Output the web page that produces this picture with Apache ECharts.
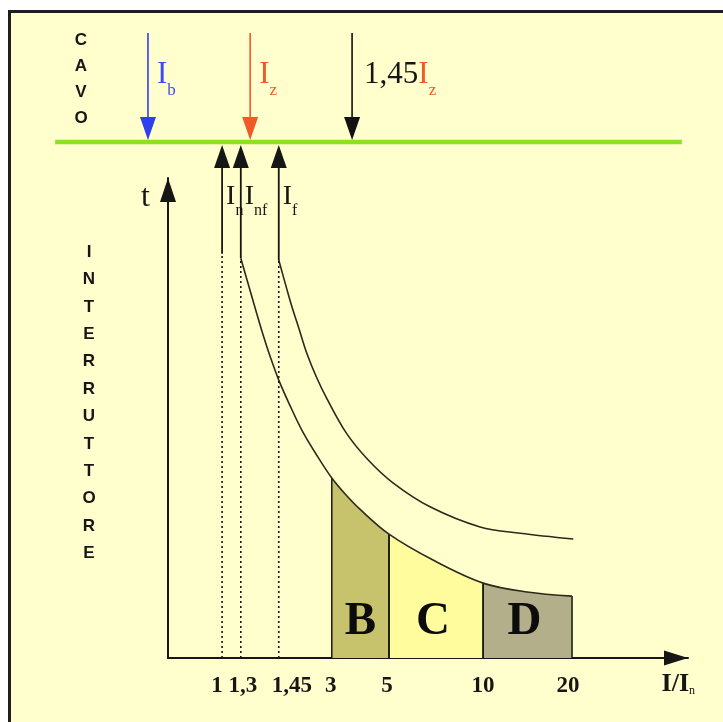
<!DOCTYPE html>
<html>
<head>
<meta charset="utf-8">
<script src="https://cdn.jsdelivr.net/npm/echarts@6/dist/echarts.min.js"></script>
<style>
  html, body { margin: 0; padding: 0; background: #ffffff; }
  #chart { width: 723px; height: 722px; }
</style>
</head>
<body>
<div id="chart"></div>
<script>
// ---- data ------------------------------------------------------------
// Currents marked on the I/In axis (multiples of the breaker rating In)
const tickRatios = [1, 1.3, 1.45, 3, 5, 10, 20];
const tickLabels = ['1', '1,3', '1,45', '3', '5', '10', '20'];

// Breaker currents rising from the cable line: I_n, I_nf, I_f
const breakerSubs = ['n', 'nf', 'f'];
const breakerRatios = [1, 1.3, 1.45];

// Cable currents falling onto the cable line: I_b, I_z, 1,45 I_z
const cablePrefix = ['', '', '1,45'];
const cableSubs = ['b', 'z', 'z'];

// Magnetic trip bands
const zoneNames = ['B', 'C', 'D'];
const zoneFrom = [3, 5, 10];
const zoneTo = [5, 10, 20];

// Time-current curves: I/In against t (relative units, no scale shown)
const lowerCurveX = [1.3, 1.343, 1.387, 1.418, 1.45, 1.772, 2.152, 2.591, 3, 3.491, 3.982, 5, 7.34, 10, 14.94, 20];
const lowerCurveT = [83.3, 75.4, 67.5, 62.5, 57.9, 52.7, 47.1, 41.9, 37.5, 34.0, 31.0, 25.8, 20.4, 15.6, 13.75, 12.9];
const upperCurveX = [1.45, 1.684, 1.83, 2.035, 2.269, 2.553, 2.845, 3.516, 4.274, 5.21, 7.18, 9.84, 14.16, 20.11];
const upperCurveT = [82.9, 76.9, 73.3, 68.75, 63.5, 58.5, 54.2, 46.8, 41.25, 36.5, 31.5, 27.3, 26.0, 24.8];

// ---- layout ----------------------------------------------------------
// The I/In axis is schematic: each marked current has its own slot on a 0-100 track.
const AXIS_SLOTS = [[0, 0], [1, 10.4], [1.3, 14.0], [1.45, 21.3], [3, 31.5], [5, 42.5], [10, 60.6], [20, 77.7], [30, 100]];
function axisPos(r) {
  for (let i = 1; i < AXIS_SLOTS.length; i++) {
    const [r0, p0] = AXIS_SLOTS[i - 1], [r1, p1] = AXIS_SLOTS[i];
    if (r <= r1 || i === AXIS_SLOTS.length - 1) return p0 + (r - r0) / (r1 - r0) * (p1 - p0);
  }
}
// horizontal nudges (px) for the crowded tick labels
const TICK_NUDGE = [-5, 2, 13, -1, -2, 0, -4];

const CABLE_POS = [-3.85, 15.8, 35.4];          // where the cable arrows stand on the track
const CABLE_LINE = { from: -21.7, to: 98.8, t: 107.5 };
const CABLE_TOP_T = 130.2;
const BREAKER_TIP_T = 106.9;
const BREAKER_SOLID_T = [84.2, lowerCurveT[0], upperCurveT[0]];
const HEAD_LEN = 23, HEAD_W = 16;

const SERIF = "'Liberation Serif', 'DejaVu Serif', serif";
const SANS = "'Liberation Sans', Arial, sans-serif";
const INK = '#161616';
const PAPER = '#FFFECC';
const GREEN = '#8BE21F';
const CABLE_ARROW_COLORS = ['#2e3ff0', '#f05a26', '#111111'];
const CABLE_LABEL_COLORS = ['#3c4cf2', '#f05a26', '#f05a26'];
const ZONE_COLORS = ['#C7C36C', '#FFFC9E', '#B2AF8A'];

const chart = echarts.init(document.getElementById('chart'));

function arrowHead(x, yTip, dir, fill) {
  // dir = -1 points up, +1 points down
  const yb = yTip - dir * HEAD_LEN;
  return {
    type: 'polygon',
    shape: { points: [[x - HEAD_W / 2, yb], [x + HEAD_W / 2, yb], [x, yTip]] },
    style: { fill: fill }
  };
}

const tickRich = {};
TICK_NUDGE.forEach((d, i) => {
  tickRich['t' + i] = {
    fontFamily: SERIF, fontWeight: 'bold', fontSize: 23, color: INK,
    padding: d >= 0 ? [0, 0, 0, 2 * d] : [0, -2 * d, 0, 0]
  };
});

const option = {
  backgroundColor: '#ffffff',
  animation: false,
  graphic: [
    {
      type: 'rect', z: -5, silent: true,
      shape: { x: 9.5, y: 11.5, width: 760, height: 760 },
      style: { fill: PAPER, stroke: '#1e1e1e', lineWidth: 3 }
    },
    {
      type: 'text', x: 81, y: 27, z: 5,
      style: { text: 'C\nA\nV\nO', font: 'bold 17px ' + SANS, lineHeight: 26, fill: INK, align: 'center', verticalAlign: 'top' }
    },
    {
      type: 'text', x: 89, y: 238.5, z: 5,
      style: { text: 'INTERRUTTORE'.split('').join('\n'), font: 'bold 17px ' + SANS, lineHeight: 27.4, fill: INK, align: 'center', verticalAlign: 'top' }
    }
  ],
  grid: { left: 168, right: 35, top: 178, bottom: 64 },
  xAxis: {
    type: 'value', min: 0, max: 100,
    axisLine: { show: true, symbol: ['none', 'triangle'], symbolSize: [15, 24], symbolOffset: [0, -12], lineStyle: { color: INK, width: 2 } },
    axisTick: { show: false },
    splitLine: { show: false },
    axisLabel: {
      customValues: tickRatios.map(axisPos),
      showMinLabel: true, showMaxLabel: true, hideOverlap: false,
      formatter: function (v) {
        let best = 0;
        tickRatios.forEach((r, i) => { if (Math.abs(axisPos(r) - v) < Math.abs(axisPos(tickRatios[best]) - v)) best = i; });
        return '{t' + best + '|' + tickLabels[best] + '}';
      },
      rich: tickRich,
      margin: 17, fontFamily: SERIF, fontWeight: 'bold', fontSize: 23, color: INK
    },
    name: '{a|I/I}{s|n}', nameLocation: 'end', nameGap: 7,
    nameTextStyle: {
      align: 'right', verticalAlign: 'top', padding: [13, 0, 0, 0],
      rich: {
        a: { fontFamily: SERIF, fontWeight: 'bold', fontSize: 26, color: INK },
        s: { fontFamily: SERIF, fontSize: 12, color: INK, padding: [14, 0, 0, 0] }
      }
    }
  },
  yAxis: {
    type: 'value', min: 0, max: 100,
    axisLine: { show: true, symbol: ['none', 'triangle'], symbolSize: [16, 24], symbolOffset: [0, -12], lineStyle: { color: INK, width: 2 } },
    axisTick: { show: false }, axisLabel: { show: false }, splitLine: { show: false },
    name: 't', nameLocation: 'end', nameGap: -20,
    nameTextStyle: { fontFamily: SERIF, fontSize: 32, color: INK, align: 'right', verticalAlign: 'middle', padding: [0, 18, 0, 0] }
  },
  visualMap: {
    show: false, type: 'piecewise', seriesIndex: 0, dimension: 0,
    pieces: zoneNames.map((n, i) => ({ gte: axisPos(zoneFrom[i]), lte: axisPos(zoneTo[i]), color: ZONE_COLORS[i] })),
    outOfRange: { color: 'rgba(0,0,0,0)' }
  },
  series: [
    {
      // band fills under the lower curve
      type: 'line', smooth: 0.35, symbol: 'none', z: 1,
      data: lowerCurveX.map((r, i) => [axisPos(r), lowerCurveT[i]]),
      lineStyle: { width: 0, opacity: 0 },
      areaStyle: { opacity: 1 }
    },
    {
      // band borders and letters
      type: 'custom', z: 2,
      data: zoneNames.map((n, i) => [axisPos(zoneFrom[i]), axisPos(zoneTo[i]), i]),
      renderItem: function (params, api) {
        const i = params.dataIndex;
        const a = zoneFrom[i], b = zoneTo[i];
        const ta = lowerCurveT[lowerCurveX.indexOf(a)], tb = lowerCurveT[lowerCurveX.indexOf(b)];
        const pa0 = api.coord([axisPos(a), 0]), pa1 = api.coord([axisPos(a), ta]);
        const pb0 = api.coord([axisPos(b), 0]), pb1 = api.coord([axisPos(b), tb]);
        const pc = api.coord([(axisPos(a) + axisPos(b)) / 2, 8.1]);
        return {
          type: 'group',
          children: [
            { type: 'line', shape: { x1: pa0[0], y1: pa0[1], x2: pa1[0], y2: pa1[1] }, style: { stroke: INK, lineWidth: 1.5 } },
            { type: 'line', shape: { x1: pb0[0], y1: pb0[1], x2: pb1[0], y2: pb1[1] }, style: { stroke: INK, lineWidth: 1.5 } },
            { type: 'text', x: pc[0] - (i ? 3 : 0), y: pc[1] + 3, style: { text: zoneNames[i], font: 'bold 47px ' + SERIF, fill: '#0c0c0c', align: 'center', verticalAlign: 'middle' } }
          ]
        };
      }
    },
    {
      type: 'line', smooth: 0.35, symbol: 'none', z: 3,
      data: lowerCurveX.map((r, i) => [axisPos(r), lowerCurveT[i]]),
      lineStyle: { color: '#2b2a1c', width: 1.6 }
    },
    {
      type: 'line', smooth: 0.35, symbol: 'none', z: 3,
      data: upperCurveX.map((r, i) => [axisPos(r), upperCurveT[i]]),
      lineStyle: { color: '#2b2a1c', width: 1.6 }
    },
    {
      // cable line
      type: 'custom', z: 4,
      data: [[CABLE_LINE.from, CABLE_LINE.to, CABLE_LINE.t]],
      renderItem: function (params, api) {
        const p0 = api.coord([api.value(0), api.value(2)]);
        const p1 = api.coord([api.value(1), api.value(2)]);
        return { type: 'line', shape: { x1: p0[0], y1: p0[1], x2: p1[0], y2: p1[1] }, style: { stroke: GREEN, lineWidth: 4.5 } };
      }
    },
    {
      // breaker currents: arrows rising from the cable line, dotted down to the axis
      type: 'custom', z: 5,
      data: breakerRatios.map((r, i) => [axisPos(r), i]),
      renderItem: function (params, api) {
        const i = params.dataIndex;
        const u = axisPos(breakerRatios[i]);
        const p0 = api.coord([u, 0]);
        const ps = api.coord([u, BREAKER_SOLID_T[i]]);
        const pt = api.coord([u, BREAKER_TIP_T]);
        return {
          type: 'group',
          children: [
            { type: 'line', shape: { x1: p0[0], y1: p0[1], x2: ps[0], y2: ps[1] }, style: { stroke: INK, lineWidth: 1.6, lineDash: [2, 3] } },
            { type: 'line', shape: { x1: ps[0], y1: ps[1], x2: pt[0], y2: pt[1] + HEAD_LEN - 2 }, style: { stroke: INK, lineWidth: 1.8 } },
            arrowHead(pt[0], pt[1], -1, INK),
            {
              type: 'text', x: pt[0] + 4, y: pt[1] + 60,
              style: {
                text: '{i|I}{s|' + breakerSubs[i] + '}', align: 'left', verticalAlign: 'middle',
                rich: {
                  i: { fontFamily: SERIF, fontSize: 28, fill: INK, verticalAlign: 'bottom', lineHeight: 28, padding: [0, 0, 8, 0] },
                  s: { fontFamily: SERIF, fontSize: 16, fill: INK, verticalAlign: 'bottom', lineHeight: 16 }
                }
              }
            }
          ]
        };
      }
    },
    {
      // cable currents: arrows falling onto the cable line
      type: 'custom', z: 5,
      data: CABLE_POS.map((u, i) => [u, i]),
      renderItem: function (params, api) {
        const i = params.dataIndex;
        const u = CABLE_POS[i];
        const ptop = api.coord([u, CABLE_TOP_T]);
        const ptip = api.coord([u, CABLE_LINE.t]);
        const yTip = ptip[1] - 2;
        const labelColor = CABLE_LABEL_COLORS[i];
        return {
          type: 'group',
          children: [
            { type: 'line', shape: { x1: ptop[0], y1: ptop[1], x2: ptop[0], y2: yTip - HEAD_LEN + 2 }, style: { stroke: CABLE_ARROW_COLORS[i], lineWidth: 1.6 } },
            arrowHead(ptip[0], yTip, 1, CABLE_ARROW_COLORS[i]),
            {
              type: 'text', x: ptop[0] + (cablePrefix[i] ? 12 : 9), y: ptop[1] + 50,
              style: {
                text: (cablePrefix[i] ? '{k|' + cablePrefix[i] + '}' : '') + '{i|I}{s|' + cableSubs[i] + '}',
                align: 'left', verticalAlign: 'middle',
                rich: {
                  k: { fontFamily: SERIF, fontSize: 31, fill: INK, verticalAlign: 'bottom', lineHeight: 31, padding: [0, 0, 8, 0] },
                  i: { fontFamily: SERIF, fontSize: 31, fill: labelColor, verticalAlign: 'bottom', lineHeight: 31, padding: [0, 0, 8, 0] },
                  s: { fontFamily: SERIF, fontSize: 17, fill: labelColor, verticalAlign: 'bottom', lineHeight: 17 }
                }
              }
            }
          ]
        };
      }
    }
  ]
};

chart.setOption(option);
</script>
</body>
</html>
